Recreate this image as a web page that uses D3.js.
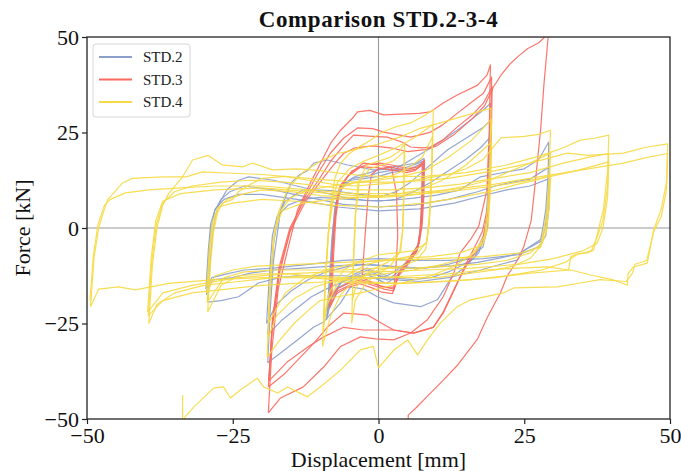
<!DOCTYPE html>
<html><head><meta charset="utf-8">
<script src="https://cdn.jsdelivr.net/npm/d3@7"></script>
<style>body{margin:0;background:#fff}</style>
</head><body><svg id="c" width="681" height="471"></svg>
<script>
const chartTitle = "Comparison STD.2-3-4";
const xLabel = "Displacement [mm]";
const yLabel = "Force [kN]";
const xTicks = [-50, -25, 0, 25, 50];
const yTicks = [-50, -25, 0, 25, 50];
const seriesNames = ["STD.2", "STD.3", "STD.4"];
const seriesColors = ["#8c9fcc", "#fb6a5e", "#f6da45"];

// STD.2 hysteresis cycles [displacement mm, force kN]
const std2Cycles = [
 [[-8.8,-23],[-8.3,-12],[-7.9,-2],[-7.4,6],[-6.5,11],[-4.5,13],[-2,13.5],[0,14.5],[2,15],[4,15.5],[6,16.5],[7.7,17.5],[7.6,9],[7.3,1],[6.8,-5],[5,-9],[3,-12],[1.5,-13.6],[-0.5,-12],[-1.9,-11],[-4,-12.5],[-6.5,-14.4],[-8,-18],[-8.8,-23]],
 [[-8.6,-21],[-8.1,-10],[-7.7,-1],[-7.1,7],[-6,11.5],[-4,13.5],[-1.5,14.5],[0.5,15.5],[2.5,16],[4.5,16.5],[6.5,17],[7.8,18.2],[7.7,10],[7.4,2],[6.9,-4],[5.2,-8.5],[3.2,-11],[1.5,-12.5],[-0.5,-11.5],[-2,-10.5],[-4,-12],[-6.2,-14],[-7.8,-17],[-8.6,-21]],
 [[-8.9,-24],[-8.4,-13],[-8,-3],[-7.5,5],[-6.6,10],[-4.8,12.5],[-2.2,13],[0,13.5],[2.2,14.5],[4.2,15],[6.2,16],[7.6,17],[7.5,8],[7.2,0],[6.6,-6],[4.8,-10],[2.8,-13],[1.3,-14.5],[-0.8,-13],[-2.2,-12],[-4.3,-13.5],[-6.8,-15.5],[-8.2,-19],[-8.9,-24]],
 [[-19,-35.3],[-18.6,-22],[-18,-8.4],[-16.8,4.7],[-15,11.8],[-13.5,14],[-12.2,15],[-11.1,17],[-8.8,17.8],[-5.3,16.5],[-0.9,15.2],[3,15.5],[5.5,17.8],[8.4,20.4],[11,23],[13.5,25.6],[16,28.5],[18,30.9],[19.2,32.7],[19,20],[18.7,6],[18.2,-2],[17.2,-6.5],[15,-10],[12.5,-13],[10.1,-18.8],[7.2,-20.6],[2.6,-19.6],[-0.2,-18],[-2.5,-16],[-4.8,-15.4],[-6.5,-19.6],[-9.4,-24.6],[-11.1,-25.9],[-13.9,-29.3],[-16.8,-32.7],[-19,-35.3]],
 [[-19,-28],[-18.5,-15],[-18,-4],[-17.2,3],[-16,7],[-13,10],[-11.1,10],[-8,9.8],[-5.3,9.2],[-2,8.6],[0.3,8.2],[3,9.5],[5.5,12],[8.5,16],[11.8,20.4],[15,23.5],[18,26.4],[19.1,28],[18.9,15],[18.5,2],[17.8,-4],[16.3,-8],[14,-10],[12,-11.5],[9,-13],[6,-13.5],[2,-13],[-1.5,-12],[-3.5,-12.5],[-6,-14],[-9,-16],[-11.5,-18],[-14,-21],[-16.5,-24],[-19,-28]],
 [[-19.2,-25],[-18.7,-12],[-18.2,-2],[-17.4,3],[-15.5,6],[-13,7.5],[-10,8],[-5,7.5],[0,7],[3,7.5],[6,9.5],[9,12],[12,15],[15,18],[17.5,21],[19.3,24],[19.1,12],[18.7,0],[17.9,-5],[15.5,-8],[12,-9.5],[8,-10.5],[4,-10.5],[1.5,-10],[-2,-9.5],[-5,-10],[-9,-11.5],[-12,-13.5],[-15,-16.5],[-17.5,-20],[-19.2,-25]],
 [[-29.3,-19.4],[-28.9,-9],[-28.5,-2],[-28,3],[-27.3,6.5],[-26,10],[-24,12.5],[-22.3,13.4],[-18,12.5],[-14,11],[-10,9.5],[-6,8],[-2,7.2],[2,7.2],[6,7.8],[10,8.6],[14,10],[17.5,13.4],[21,14.4],[25,15.5],[27.5,18],[29.2,22.5],[29.1,14],[28.7,5],[28.2,0],[27.8,-3],[25,-5.8],[23.8,-8.4],[21,-9.5],[17.5,-11],[12,-13],[7,-14],[2.5,-13.5],[-2,-13],[-6,-12.5],[-10,-12.5],[-14,-12.5],[-17,-13],[-20.6,-14.4],[-24,-18],[-27,-19],[-29.3,-19.4]],
 [[-29.5,-17.5],[-29.1,-7],[-28.7,0],[-28.1,4.5],[-27,7.5],[-25.5,9.5],[-23,11],[-18,10],[-12,8],[-6,6.2],[0,5.5],[6,6],[12,7.5],[17,9.5],[20,11],[23,12],[26,12.8],[29.3,16],[29.1,8],[28.6,0],[27.8,-3.5],[26,-5],[24.4,-6.5],[21,-7.8],[17,-9],[12,-10],[7,-10.5],[2,-10],[-3,-9.5],[-8,-10],[-13,-10.5],[-18,-11],[-22,-11.8],[-25,-13],[-28.5,-13.6],[-29.5,-17.5]],
 [[-29.6,-16],[-29.2,-6],[-28.8,1],[-28,5],[-26.5,7.5],[-24,8.8],[-20,8.8],[-14,7.5],[-7,5.5],[0,4.5],[7,5],[13,6.5],[18,8.5],[22,10],[26,11],[29.4,13],[29.2,5],[28.7,-2],[27.4,-5],[24,-7],[18,-8],[12,-8.5],[6,-8.5],[0,-8],[-6,-8.5],[-12,-9.5],[-18,-10.5],[-23,-11],[-26,-12],[-28.6,-13],[-29.6,-16]]
];

// STD.3 hysteresis cycles
const std3Cycles = [
 [[-8.2,-20],[-7.9,-8],[-7.5,2],[-6.8,10],[-5,14],[-2.6,17],[0,16.5],[2,16],[3.5,15.5],[5,15],[6.5,15.5],[7.7,17],[7.6,8],[7.3,0],[6.8,-5],[5,-9],[3.4,-12],[2.6,-16.5],[1,-16],[-1,-15],[-3,-14],[-5,-15],[-7,-16.5],[-8.2,-20]],
 [[-8,-18],[-7.7,-7],[-7.3,3],[-6.6,11],[-4.5,15],[-2.2,16.5],[0.3,17],[2.3,16.5],[3.8,16],[5.2,15.5],[6.7,16],[7.9,17.8],[7.8,9],[7.5,1],[7,-4],[5.2,-8],[3.6,-11.5],[2.8,-15.5],[1,-15.5],[-1,-14.5],[-3,-13.5],[-5.2,-14.5],[-7,-15.8],[-8,-18]],
 [[-8.4,-21],[-8,-9],[-7.6,1],[-7,9],[-5.3,13.5],[-3,16],[-0.3,15.8],[1.8,15.3],[3.3,15],[4.8,14.5],[6.2,15],[7.5,16.5],[7.4,7],[7.1,-1],[6.6,-6],[4.8,-10],[3.2,-13],[2.4,-17.2],[0.6,-16.8],[-1.2,-15.6],[-3.2,-14.6],[-5.4,-15.6],[-7.2,-17.2],[-8.4,-21]],
 [[-2.8,-13],[-2.3,-2],[-1.8,8],[-1.2,14],[0,15.5],[2.2,16],[3.1,9],[3.3,-2],[3,-10],[2.6,-16],[0,-15],[-2.8,-13]],
 [[-18.9,-48.4],[-18.3,-32],[-17.2,-16],[-15.6,-5.8],[-13.9,4.7],[-11.7,11.8],[-9.4,18.6],[-8.2,22.2],[-6.5,25.6],[-4.3,29],[-3.6,30.4],[-1.5,30.8],[0.9,29.6],[4,29.8],[7,30],[8.9,30.4],[11.1,32.7],[13.5,34.8],[17,37.4],[18.6,40],[19.2,42.7],[19,26],[18.6,10],[17.2,0.5],[15.8,-3],[14,-6.5],[12.9,-11.8],[11.1,-18],[8.4,-24],[5.5,-27.5],[2.6,-29.3],[-0.5,-29],[-3.1,-28.5],[-6.5,-31],[-9.4,-36.4],[-12.9,-41.6],[-16.8,-44.5],[-18.9,-48.4]],
 [[-18.9,-41.6],[-18.2,-26],[-17,-12],[-15.2,-1],[-13,7],[-10.5,14],[-8.3,19.5],[-6,23.5],[-3.6,26.2],[-1,26],[0.9,25.1],[3,24.5],[5.5,23.8],[7.5,24.5],[8.9,25.1],[11,27],[13.5,30],[16,33],[18,35.3],[19.4,39.5],[19.2,22],[18.8,6],[17.8,-1],[16.5,-5],[14.8,-10],[13.2,-15.5],[11.1,-22.3],[9.4,-26],[6,-27.5],[2.6,-26.7],[0,-24.5],[-1.9,-22.8],[-4,-22.5],[-6,-22.3],[-8.8,-26],[-11,-30],[-13.5,-34],[-16,-38],[-18.9,-41.6]],
 [[-18.8,-40],[-18.2,-24],[-17,-10],[-15.2,0],[-12.8,7],[-10.3,12.5],[-8.2,17.5],[-6,21.5],[-4.3,24.3],[-1,24],[1.5,23.8],[4,22.5],[5.5,21.2],[7.5,21],[8.9,21.2],[11,23],[13.5,26.4],[16,29.5],[18,32.7],[19.5,37],[19.3,20],[18.9,5],[18,-2],[16.8,-6],[15,-10],[12.9,-16.2],[11.1,-22],[9.4,-26],[6,-27.5],[2.6,-26.7],[-2.6,-26.7],[-6,-26],[-9.4,-28.5],[-12,-31],[-15.6,-35],[-17.5,-38],[-18.8,-40]],
 [[-18.8,-40],[-18.2,-25],[-17,-11],[-15.2,-1],[-12.5,7],[-10,12],[-8,16],[-6,19.5],[-4,21],[-1,21.5],[2,21],[5,20],[8,20.5],[10,21.5],[13,24.5],[16,28.5],[18.2,32],[19.7,36.9],[21,40],[22.6,43],[24,45],[25.6,47],[27.5,48.5],[29.2,51],[29.5,56],[29.4,56],[29.1,50],[28.4,38],[27.8,25.6],[26.9,12],[26.2,2],[24.9,-5],[23.8,-8.5],[22.1,-12.5],[20.9,-17],[18.7,-23.3],[17,-29],[15,-33],[13.5,-36],[11,-40],[8.4,-44],[6.5,-47],[5.1,-49],[5.1,-53]]
];

// STD.4 hysteresis cycles
const std4Cycles = [
 [[-4.6,-25],[-4.3,-8],[-4,3],[-3.5,12],[-2,16.5],[0,17.5],[2,18.5],[3.5,20],[4.5,22],[4.4,10],[4.2,0],[3.8,-6],[2,-10],[0,-12],[-2,-14],[-4,-19],[-4.6,-25]],
 [[-4.5,-19],[-4.2,-6],[-3.9,4],[-3.3,12],[-1.5,15.5],[0.5,16.5],[2.5,17.5],[4.4,20],[4.3,8],[4.1,-1],[3.6,-6.5],[1.5,-9],[-0.5,-10.5],[-2.5,-12.5],[-4,-16],[-4.5,-19]],
 [[-9.6,-31],[-9.2,-16],[-8.7,-3],[-8.2,6],[-7.5,13],[-6.5,17],[-5,19.5],[-3,21.5],[-1.4,23],[0.5,25],[3,26.5],[5.5,27.5],[8,29.5],[9.4,31],[9.2,18],[8.9,6],[8.6,0],[8.1,-5.5],[6.5,-8.5],[4,-10],[1.5,-10.5],[-1,-11.5],[-3,-13],[-5,-15],[-6.5,-17.5],[-8.2,-23],[-9.6,-31]],
 [[-9.5,-27],[-9.1,-13],[-8.6,-1],[-8,7],[-7,12],[-5,15.5],[-2.5,17.5],[0,19],[3,21],[6,23.5],[9.3,27],[9.1,15],[8.7,3],[8.3,-3.5],[6.5,-7],[3.5,-8],[1,-8.5],[-2,-9.5],[-4.5,-11.5],[-7,-14.5],[-8.8,-20],[-9.5,-27]],
 [[-9.4,-24],[-9,-11],[-8.5,0],[-7.8,7],[-6.5,10.5],[-4,12],[-1,12.5],[2,13.5],[5,15.5],[7.5,18.5],[9.3,24],[9.1,12],[8.7,1],[8.2,-4],[6,-6],[3,-6.5],[0,-7],[-3,-8.5],[-6,-11],[-8.5,-17],[-9.4,-24]],
 [[-19.1,-33.8],[-18.6,-16],[-18.1,-4],[-17.2,4],[-15.5,10.5],[-13,14.5],[-10,17.5],[-7,19.5],[-4,20.5],[0,22],[4,24],[7,26],[10.6,27.5],[15,29.5],[19.3,31.4],[19.1,18],[18.7,5],[18.2,-2],[16.5,-6.5],[13,-10],[9,-12.5],[5,-14],[1,-15.5],[-3,-17],[-7,-18],[-10,-19],[-12,-21.5],[-14.5,-25],[-17,-29.5],[-19.1,-33.8]],
 [[-19,-29],[-18.5,-13],[-17.9,-2],[-17,4],[-15,8],[-12,10],[-8,11],[-4,11.8],[0,12.5],[4,13.5],[8,15],[12,18.5],[16,23],[19.4,28.5],[19.2,15],[18.8,3],[18.1,-3.5],[15.5,-7.5],[11,-9.5],[6,-11],[1,-12],[-3,-12.5],[-7,-13.5],[-11,-15.5],[-14.5,-18.5],[-17.5,-23],[-19,-29]],
 [[-18.9,-25],[-18.4,-10],[-17.7,0],[-16.5,4.5],[-13,6.5],[-8,7.5],[-3,8],[2,8.5],[7,10],[11,12.5],[15,16.5],[19.4,22.5],[19.2,10],[18.8,0],[17.8,-4.5],[14,-6.5],[9,-7.5],[3,-8],[-3,-9],[-8,-10.5],[-12.5,-13],[-16,-17],[-18.9,-25]],
 [[-29.3,-22],[-28.8,-9],[-28.3,-1],[-27.6,4],[-26.8,6.5],[-25,7.5],[-24,9.5],[-22.5,11],[-20,13],[-16,13.5],[-12,12.5],[-8,11.5],[-4,11],[0,11.5],[4,12],[8,13],[12,14],[15,15.5],[18,18],[21,23.6],[25,24],[27.5,24.5],[29.5,25.6],[29.3,15],[28.9,5],[28.4,0],[27.7,-5],[26,-8],[23,-10],[20,-11],[15,-12],[10,-13],[5,-13],[0,-13],[-5,-13.5],[-10,-13],[-15,-12],[-20,-12],[-24,-12.5],[-27,-15],[-29.3,-22]],
 [[-29.4,-19.5],[-28.9,-7],[-28.4,0],[-27.6,5],[-26,7.5],[-23,9],[-20,10],[-15,9.5],[-10,8.5],[-5,8],[0,8],[5,8.5],[10,9.5],[15,11],[19,12.5],[22,14.5],[26,17],[29.5,19.6],[29.3,10],[28.8,1],[28,-4],[26,-6.5],[22,-8.5],[17,-9.5],[12,-10],[6,-10.5],[0,-10.5],[-6,-11],[-12,-11],[-18,-11],[-23,-11.5],[-26.5,-13],[-29.4,-19.5]],
 [[-29.5,-17],[-29,-5],[-28.5,1.5],[-27.5,5.5],[-25,6.5],[-20,7.5],[-14,7],[-8,6],[0,5.5],[8,6.5],[14,8],[19,9.5],[24,11.5],[27,12.5],[29.5,14],[29.3,6],[28.8,-1],[27.8,-5],[24.5,-6.5],[18,-7.5],[10,-8],[2,-8.5],[-6,-9],[-14,-9.5],[-21,-10],[-25,-11],[-28,-12.5],[-29.5,-17]],
 [[-39.4,-25],[-38.8,-10],[-38,0],[-37,6],[-36,9],[-33.6,13.4],[-31.9,17.8],[-29.2,19],[-26.8,16.5],[-23.3,16],[-21.6,17],[-18.2,15.2],[-14,15.5],[-10,15],[-5,14],[0,13.5],[8,13.5],[15,14.5],[22,16.5],[28,19],[31.7,21],[34.6,23],[37,23.5],[39.5,24.3],[39.3,15],[38.6,5],[37.7,-0.5],[36.9,-5.8],[35.8,-6.5],[34,-6.8],[33,-7.5],[32.6,-11],[29,-10.2],[24,-10.5],[18,-11],[12,-12],[6,-12.5],[0,-13],[-6,-13],[-12,-12.5],[-18,-13],[-24,-14],[-30,-15],[-35,-17],[-38,-20],[-39.4,-25]],
 [[-39.5,-23],[-38.9,-9],[-38.1,1],[-37,6.5],[-35,9.5],[-32,11],[-27,12],[-22,12.5],[-16,12],[-10,11],[-4,10],[2,10],[8,10.5],[14,11.5],[20,13],[26,14.5],[31.7,17],[36,18.5],[39.5,19.5],[39.3,11],[38.5,2],[37.6,-2],[36.5,-6],[34,-7],[32,-9],[28,-11],[22,-12.5],[16,-13.5],[10,-14],[4,-14.5],[-2,-14.5],[-8,-14],[-14,-14.5],[-20,-15],[-26,-16],[-32,-17],[-37,-19],[-39.5,-23]],
 [[-39.6,-22],[-39,-8],[-38.2,2],[-37,7],[-34,9],[-28,10],[-20,10.5],[-12,9.5],[-4,8.5],[4,8.5],[12,9.5],[20,11],[28,13],[34,15],[39.5,17.3],[39.3,8],[38.5,0],[37.5,-4],[35,-6],[30,-8],[24,-9.5],[16,-10.5],[8,-11],[0,-11.5],[-8,-11.5],[-16,-12],[-24,-13],[-32,-15],[-37,-17],[-39.6,-22]],
 [[-49.4,-20.6],[-48.8,-8],[-48,0],[-47,5],[-46.5,7.3],[-43.9,11.8],[-42.2,13],[-37,13.4],[-33,13.4],[-30.2,14.7],[-26.2,14.4],[-20,14],[-12,13],[-4,12],[4,12],[12,13],[20,15],[26,17],[32.4,19.6],[36,19],[42,19.6],[46.1,21.2],[49.6,22],[49.4,12],[48.5,5],[47.2,-0.5],[46.1,-9.2],[43.7,-10.2],[42.8,-12],[42.7,-15],[40.3,-13.6],[36.4,-12.3],[33,-11],[26,-11.8],[20,-13],[12,-14],[4,-14.5],[-4,-14],[-12,-13],[-20,-13],[-28,-13.5],[-36,-14.5],[-41.7,-16.2],[-44.6,-15.4],[-48,-16],[-49.4,-20.6]],
 [[-49.5,-19],[-48.9,-7],[-48.1,1],[-47,6],[-46,7.5],[-43.4,9.2],[-39.4,10],[-34,10.5],[-28,11],[-20,11],[-12,10],[-4,9],[4,9],[12,10],[20,11.5],[28,13.5],[36,15.5],[42,17],[46.1,18.5],[49.6,19.5],[49.4,10],[48.5,3],[47.2,-1],[46,-8.5],[44,-9.5],[43.5,-12],[42.5,-14],[38,-13.5],[34.6,-14.4],[30.7,-15.4],[23.2,-15.7],[21.4,-17],[15.8,-18.8],[13.5,-20.6],[10.6,-24.9],[8.4,-29.3],[6.7,-33.2],[5,-29.3],[2.6,-32],[0,-36.6],[-0.9,-31],[-3.1,-31.9],[-6.5,-37.2],[-10,-41.6],[-12.2,-44.2],[-15.6,-41.6],[-17.3,-43.2],[-19.7,-41.6],[-20.8,-39.3],[-23.7,-42.4],[-25.4,-44.5],[-26.6,-41.6],[-28.3,-41.9],[-31.7,-46.9],[-33.2,-49.5],[-33.6,-53],[-33.6,-43.7]]
];

const allSeries = [std2Cycles, std3Cycles, std4Cycles];

const svg = d3.select("#c");
const x = d3.scaleLinear().domain([-50, 50]).range([87, 670]);
const y = d3.scaleLinear().domain([-50, 50]).range([419, 37]);
const serif = "'Liberation Serif','Times New Roman',serif";

svg.append("rect").attr("width", 681).attr("height", 471).attr("fill", "#fff");

svg.append("defs").append("clipPath").attr("id", "clip")
  .append("rect").attr("x", x(-50)).attr("y", y(50))
  .attr("width", x(50) - x(-50)).attr("height", y(-50) - y(50));

const plot = svg.append("g").attr("clip-path", "url(#clip)");

// zero lines
plot.append("line").attr("x1", x(0)).attr("x2", x(0)).attr("y1", y(50)).attr("y2", y(-50))
  .attr("stroke", "#9a9a9a").attr("stroke-width", 1.1);
plot.append("line").attr("x1", x(-50)).attr("x2", x(50)).attr("y1", y(0)).attr("y2", y(0))
  .attr("stroke", "#9a9a9a").attr("stroke-width", 1.1);

const line = d3.line().x(d => x(d[0])).y(d => y(d[1]));
allSeries.forEach((cycles, i) => {
  plot.append("g").selectAll("path").data(cycles).join("path")
    .attr("d", line).attr("fill", "none")
    .attr("stroke", seriesColors[i]).attr("stroke-width", 1.2)
    .attr("stroke-opacity", 0.92).attr("stroke-linejoin", "round");
});

// frame
svg.append("rect").attr("x", x(-50)).attr("y", y(50))
  .attr("width", x(50) - x(-50)).attr("height", y(-50) - y(50))
  .attr("fill", "none").attr("stroke", "#222").attr("stroke-width", 1.3);

const fmt = d => d < 0 ? "\u2212" + Math.abs(d) : String(d);
const gx = svg.append("g").attr("transform", `translate(0,${y(-50)})`)
  .call(d3.axisBottom(x).tickValues(xTicks).tickFormat(fmt).tickSize(5).tickPadding(3));
const gy = svg.append("g").attr("transform", `translate(${x(-50)},0)`)
  .call(d3.axisLeft(y).tickValues(yTicks).tickFormat(fmt).tickSize(5).tickPadding(3));
[gx, gy].forEach(g => {
  g.select(".domain").remove();
  g.selectAll(".tick line").attr("stroke", "#222").attr("stroke-width", 1.2);
  g.selectAll(".tick text").attr("font-family", serif).attr("font-size", 22).attr("fill", "#111");
});

svg.append("text").attr("x", x(0)).attr("y", 27).attr("text-anchor", "middle")
  .attr("font-family", serif).attr("font-weight", "bold").attr("font-size", 23)
  .attr("letter-spacing", 0.6).attr("fill", "#111").text(chartTitle);
svg.append("text").attr("x", x(0)).attr("y", 467).attr("text-anchor", "middle")
  .attr("font-family", serif).attr("font-size", 22).attr("fill", "#111").text(xLabel);
svg.append("text").attr("transform", `translate(30,${y(0)}) rotate(-90)`).attr("text-anchor", "middle")
  .attr("font-family", serif).attr("font-size", 22).attr("fill", "#111").text(yLabel);

// legend
const lg = svg.append("g");
lg.append("rect").attr("x", 93).attr("y", 44).attr("width", 97).attr("height", 73)
  .attr("rx", 3).attr("fill", "#fff").attr("fill-opacity", 0.85)
  .attr("stroke", "#d6d6d6").attr("stroke-width", 1);
seriesNames.forEach((n, i) => {
  const yy = 57 + i * 22.5;
  lg.append("line").attr("x1", 99).attr("x2", 132).attr("y1", yy).attr("y2", yy)
    .attr("stroke", seriesColors[i]).attr("stroke-width", 2);
  lg.append("text").attr("x", 143).attr("y", yy + 5).attr("font-family", serif)
    .attr("font-size", 15).attr("fill", "#222").text(n);
});
</script>
</body></html>
